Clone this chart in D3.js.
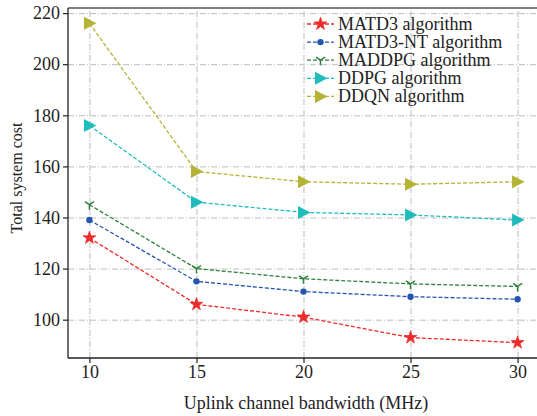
<!DOCTYPE html>
<html>
<head>
<meta charset="utf-8">
<script src="https://cdn.jsdelivr.net/npm/d3@7"></script>
<style>
  body { margin: 0; background: #fff; }
  text { font-family: "Liberation Serif", "Times New Roman", serif; fill: #222; }
  .grid line { stroke: #bdbdbd; stroke-width: 1; stroke-dasharray: 6,2,1,2; }
  .grid path { display: none; }
  .series { fill: none; stroke-width: 1.3; stroke-dasharray: 4,2; }
</style>
</head>
<body>
<svg id="chart" width="537" height="416"></svg>
<script>
const bandwidth = [10, 15, 20, 25, 30]
const matd3 = [132, 106, 101, 93, 91]
const matd3nt = [139, 115, 111, 109, 108]
const maddpg = [145, 120, 116, 114, 113]
const ddpg = [176, 146, 142, 141, 139]
const ddqn = [216, 158, 154, 153, 154]
const yTicks = [100, 120, 140, 160, 180, 200, 220]

const seriesList = [
  { name: "MATD3 algorithm", values: matd3, color: "#ee2a2a", marker: "star" },
  { name: "MATD3-NT algorithm", values: matd3nt, color: "#2456b0", marker: "circle" },
  { name: "MADDPG algorithm", values: maddpg, color: "#2f7f3c", marker: "tri" },
  { name: "DDPG algorithm", values: ddpg, color: "#1fbcbc", marker: "right" },
  { name: "DDQN algorithm", values: ddqn, color: "#b3b336", marker: "right" }
]

const plotLeft = 68, plotTop = 8, plotBottom = 358, plotRight = 539

const x = d3.scaleLinear().domain([9, 31]).range([plotLeft, plotRight])
const y = d3.scaleLinear().domain([85, 222]).range([plotBottom, plotTop])

let svg = d3.select("#chart")

// grid
svg.append("g")
    .attr("class", "grid")
    .attr("transform", "translate(0," + plotBottom + ")")
    .call(d3.axisBottom(x).tickValues(bandwidth).tickSize(-(plotBottom - plotTop)).tickFormat(""))
svg.append("g")
    .attr("class", "grid")
    .attr("transform", "translate(" + plotLeft + ",0)")
    .call(d3.axisLeft(y).tickValues(yTicks).tickSize(-(plotRight - plotLeft)).tickFormat(""))

// top border
svg.append("line")
    .attr("x1", plotLeft).attr("x2", plotRight)
    .attr("y1", plotTop).attr("y2", plotTop)
    .attr("stroke", "#808080").attr("stroke-width", 2)

let drawMarker = (g, type, color) => {
  if (type === "star") {
    g.append("path")
        .attr("d", d3.symbol().type(d3.symbolStar).size(50))
        .attr("fill", color).attr("stroke", color).attr("stroke-width", 0.8)
  } else if (type === "circle") {
    g.append("circle").attr("r", 3.2).attr("fill", color)
  } else if (type === "tri") {
    g.append("path")
        .attr("d", "M0,0L0,5M0,0L-4.5,-3M0,0L4.5,-3")
        .attr("stroke", color).attr("stroke-width", 1.5).attr("fill", "none")
  } else if (type === "right") {
    g.append("path")
        .attr("d", "M-5.5,-6.5L7,0L-5.5,6.5Z")
        .attr("fill", color)
  }
}

const line = d3.line()
    .x((d, i) => x(bandwidth[i]))
    .y(d => y(d))

seriesList.forEach(s => {
  svg.append("path")
      .attr("class", "series")
      .attr("stroke", s.color)
      .attr("d", line(s.values))
  s.values.forEach((v, i) => {
    let g = svg.append("g").attr("transform", "translate(" + x(bandwidth[i]) + "," + y(v) + ")")
    drawMarker(g, s.marker, s.color)
  })
})

// axes
let xAxis = svg.append("g")
    .attr("transform", "translate(0," + plotBottom + ")")
    .call(d3.axisBottom(x).tickValues(bandwidth).tickSizeOuter(0).tickSize(5).tickPadding(2))
let yAxis = svg.append("g")
    .attr("transform", "translate(" + plotLeft + ",0)")
    .call(d3.axisLeft(y).tickValues(yTicks).tickSizeOuter(0).tickSize(5).tickPadding(3))
;[xAxis, yAxis].forEach(a => {
  a.select(".domain").attr("stroke", "#222").attr("stroke-width", 1.3)
  a.selectAll(".tick line").attr("stroke", "#222").attr("stroke-width", 1.2)
  a.selectAll(".tick text").style("font-size", "18px").attr("fill", "#222")
})
xAxis.select(".domain").attr("d", "M" + plotLeft + ",0H" + plotRight)
yAxis.select(".domain").attr("d", "M0," + plotTop + "V" + plotBottom)

svg.append("text")
    .attr("x", 306)
    .attr("y", 409)
    .attr("text-anchor", "middle")
    .style("font-size", "18px")
    .text("Uplink channel bandwidth (MHz)")

svg.append("text")
    .attr("transform", "translate(22,178)rotate(-90)")
    .attr("text-anchor", "middle")
    .style("font-size", "16px")
    .text("Total system cost")

// legend, no frame
let legend = svg.append("g").attr("transform", "translate(307,24)")
seriesList.forEach((s, i) => {
  let row = legend.append("g").attr("transform", "translate(0," + (i * 18.1) + ")")
  row.append("line")
      .attr("x1", 0).attr("x2", 27)
      .attr("stroke", s.color).attr("stroke-width", 1.3).attr("stroke-dasharray", "4,2")
  let m = row.append("g").attr("transform", "translate(13.5,0)")
  drawMarker(m, s.marker, s.color)
  row.append("text")
      .attr("x", 31)
      .attr("dy", "0.33em")
      .style("font-size", "18px")
      .text(s.name)
})
</script>
</body>
</html>
